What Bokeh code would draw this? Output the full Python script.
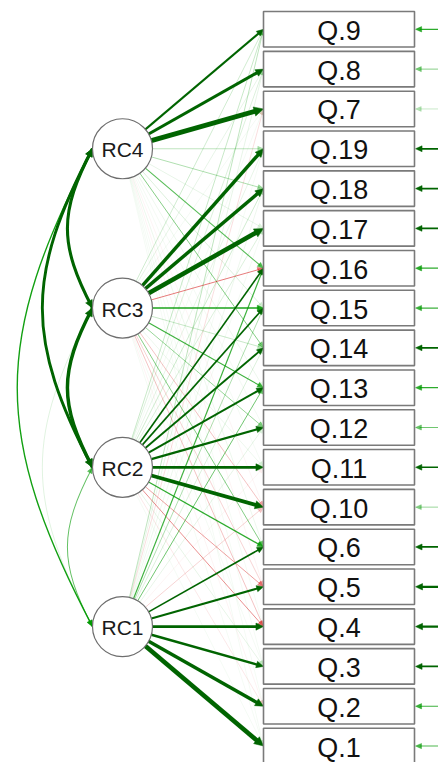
import numpy as np
from bokeh.plotting import figure
from bokeh.models import Range1d, ColumnDataSource
from bokeh.embed import file_html
from bokeh.resources import INLINE
from bokeh.core.properties import value

# ---- model estimates -------------------------------------------------------
factors = ["RC4", "RC3", "RC2", "RC1"]
items = ["Q.9", "Q.8", "Q.7", "Q.19", "Q.18", "Q.17", "Q.16", "Q.15", "Q.14",
         "Q.13", "Q.12", "Q.11", "Q.10", "Q.6", "Q.5", "Q.4", "Q.3", "Q.2", "Q.1"]

# loadings of every item (same order as `items`) on each rotated component
rc4 = [0.55, 0.68, 0.85, 0.22, 0.25, 0.12, 0.35, 0.15, 0.30, 0.10,
       0.08, 0.05, -0.05, 0.10, -0.08, 0.05, 0.03, 0.02, 0.04]
rc3 = [0.18, 0.12, 0.08, 0.72, 0.72, 0.82, -0.32, 0.42, 0.20, 0.38,
       0.28, 0.10, -0.22, 0.30, -0.18, -0.22, 0.06, -0.08, 0.05]
rc2 = [0.20, 0.15, 0.06, 0.12, 0.18, 0.15, 0.48, 0.48, 0.52, 0.55,
       0.58, 0.65, 0.75, 0.40, -0.28, -0.30, 0.12, -0.12, 0.06]
rc1 = [0.22, 0.12, -0.15, 0.06, 0.10, 0.08, 0.38, 0.25, 0.15, 0.32,
       0.12, -0.05, -0.18, 0.48, 0.55, 0.65, 0.60, 0.72, 0.82]
loadings = {"RC4": rc4, "RC3": rc3, "RC2": rc2, "RC1": rc1}

# residual variances of the items
residuals = [0.40, 0.30, 0.20, 0.50, 0.50, 0.48, 0.40, 0.38, 0.48, 0.40,
             0.32, 0.45, 0.28, 0.50, 0.58, 0.58, 0.50, 0.38, 0.36]

# correlations between the components
cov_from = ["RC4", "RC4", "RC4", "RC3", "RC3", "RC2"]
cov_to = ["RC3", "RC2", "RC1", "RC2", "RC1", "RC1"]
cov_values = [0.68, 0.66, 0.43, 0.72, 0.14, 0.33]

# ---- layout ----------------------------------------------------------------
W, H = 438, 762
BOX_L, BOX_R, BOX_H = 263.0, 414.0, 35.5
ROW0, ROW_STEP = 28.8, 39.82
LAT_X, LAT_R = 122.0, 30.0
LAT_ROWS = [3, 7, 11, 15]
CUT = 0.45

item_y = {it: ROW0 + ROW_STEP * i for i, it in enumerate(items)}
lat_y = {f: ROW0 + ROW_STEP * r for f, r in zip(factors, LAT_ROWS)}


def edge_style(w):
    a = abs(w)
    strong = a >= CUT
    if w >= 0:
        col = "#006400" if strong else "#009900"
    else:
        col = "#B00000" if strong else "#D41414"
    alpha = 1.0 if strong else max(0.06, (a / CUT) ** 1.6)
    width = max(0.8, 0.6 + 6.5 * a ** 2.5)
    return col, alpha, width


def head_len(width):
    return 5.0 + 0.9 * width


def head(tip_x, tip_y, from_x, from_y, width):
    dx, dy = tip_x - from_x, tip_y - from_y
    n = np.hypot(dx, dy)
    ux, uy = dx / n, dy / n
    L = head_len(width)
    hw = 2.0 + 0.55 * width
    bx, by = tip_x - ux * L, tip_y - uy * L
    return ([tip_x, bx - uy * hw, bx + uy * hw],
            [tip_y, by + ux * hw, by - ux * hw])


p = figure(width=W, height=H, output_backend="svg", toolbar_location=None,
           x_range=Range1d(0, W), y_range=Range1d(H, 0), min_border=0)
p.axis.visible = False
p.grid.visible = False
p.outline_line_color = None
p.background_fill_color = "white"
p.border_fill_color = "white"

# ---- factor -> item loadings (weak first so strong ones lie on top) --------
edges = []
for f in factors:
    for it, w in zip(items, loadings[f]):
        edges.append((abs(w), f, it, w))
edges.sort()

seg = dict(x0=[], y0=[], x1=[], y1=[], c=[], a=[], lw=[])
hd = dict(xs=[], ys=[], c=[], a=[])
for _, f, it, w in edges:
    col, alpha, width = edge_style(w)
    tx, ty = BOX_L, item_y[it]
    fx, fy = LAT_X, lat_y[f]
    dx, dy = tx - fx, ty - fy
    n = np.hypot(dx, dy)
    sx, sy = fx + LAT_R * dx / n, fy + LAT_R * dy / n
    L = head_len(width)
    seg["x0"].append(sx); seg["y0"].append(sy)
    seg["x1"].append(tx - dx / n * L * 0.7); seg["y1"].append(ty - dy / n * L * 0.7)
    seg["c"].append(col); seg["a"].append(alpha); seg["lw"].append(width)
    hx, hy = head(tx, ty, sx, sy, width)
    hd["xs"].append(hx); hd["ys"].append(hy)
    hd["c"].append(col); hd["a"].append(alpha)

p.segment("x0", "y0", "x1", "y1", source=ColumnDataSource(seg),
          line_color="c", line_alpha="a", line_width="lw")
p.patches("xs", "ys", source=ColumnDataSource(hd), fill_color="c",
          fill_alpha="a", line_color="c", line_alpha="a", line_width=0.5)

# ---- residual arrows on the right ------------------------------------------
rs = dict(x0=[], y0=[], x1=[], y1=[], c=[], a=[], lw=[])
rh = dict(xs=[], ys=[], c=[], a=[])
for it, r in zip(items, residuals):
    col, alpha, width = edge_style(r)
    y = item_y[it]
    tip = BOX_R + 1.0
    L = head_len(width)
    rs["x0"].append(W + 20); rs["y0"].append(y)
    rs["x1"].append(tip + L * 0.7); rs["y1"].append(y)
    rs["c"].append(col); rs["a"].append(alpha); rs["lw"].append(width)
    hx, hy = head(tip, y, W + 20, y, width)
    rh["xs"].append(hx); rh["ys"].append(hy)
    rh["c"].append(col); rh["a"].append(alpha)
p.segment("x0", "y0", "x1", "y1", source=ColumnDataSource(rs),
          line_color="c", line_alpha="a", line_width="lw")
p.patches("xs", "ys", source=ColumnDataSource(rh), fill_color="c",
          fill_alpha="a", line_color="c", line_alpha="a", line_width=0.5)

# ---- curved two-headed arrows between components ---------------------------
order = sorted(range(len(cov_values)), key=lambda k: cov_values[k])
bz = dict(x0=[], y0=[], x1=[], y1=[], cx0=[], cy0=[], cx1=[], cy1=[],
          c=[], a=[], lw=[])
bh = dict(xs=[], ys=[], c=[], a=[])
for k in order:
    a_f, b_f, v = cov_from[k], cov_to[k], cov_values[k]
    col, alpha, width = edge_style(v)
    x0 = LAT_X - LAT_R
    y0, y1 = lat_y[a_f], lat_y[b_f]
    dist = y1 - y0
    kx, d = 0.21 * dist, 0.40 * dist
    c0 = (x0 - kx, y0 + d)
    c1 = (x0 - kx, y1 - d)
    bz["x0"].append(x0); bz["y0"].append(y0)
    bz["x1"].append(x0); bz["y1"].append(y1)
    bz["cx0"].append(c0[0]); bz["cy0"].append(c0[1])
    bz["cx1"].append(c1[0]); bz["cy1"].append(c1[1])
    bz["c"].append(col); bz["a"].append(alpha); bz["lw"].append(width)
    for tip, ctrl in (((x0, y0), c0), ((x0, y1), c1)):
        hx, hy = head(tip[0], tip[1], ctrl[0], ctrl[1], width)
        bh["xs"].append(hx); bh["ys"].append(hy)
        bh["c"].append(col); bh["a"].append(alpha)
p.bezier("x0", "y0", "x1", "y1", "cx0", "cy0", "cx1", "cy1",
         source=ColumnDataSource(bz), line_color="c", line_alpha="a",
         line_width="lw")
p.patches("xs", "ys", source=ColumnDataSource(bh), fill_color="c",
          fill_alpha="a", line_color="c", line_alpha="a", line_width=0.5)

# ---- nodes ----------------------------------------------------------------
p.circle(x=[LAT_X] * len(factors), y=[lat_y[f] for f in factors],
         radius=LAT_R, fill_color="white", line_color="#6e6e6e",
         line_width=1.2)
p.text(x=[LAT_X] * len(factors), y=[lat_y[f] + 1 for f in factors],
       text=factors, text_font=value("Liberation Sans"),
       text_font_size="21px", text_align="center", text_baseline="middle",
       text_color="#1a1a1a")

p.rect(x=[(BOX_L + BOX_R) / 2] * len(items), y=[item_y[i] for i in items],
       width=BOX_R - BOX_L, height=BOX_H, fill_color="white",
       line_color="#7a7a7a", line_width=1.6)
p.text(x=[(BOX_L + BOX_R) / 2] * len(items), y=[item_y[i] + 1.5 for i in items],
       text=items, text_font=value("Liberation Sans"), text_font_size="27px",
       text_align="center", text_baseline="middle", text_color="#111111")

open("out.html", "w").write(file_html(p, INLINE))
